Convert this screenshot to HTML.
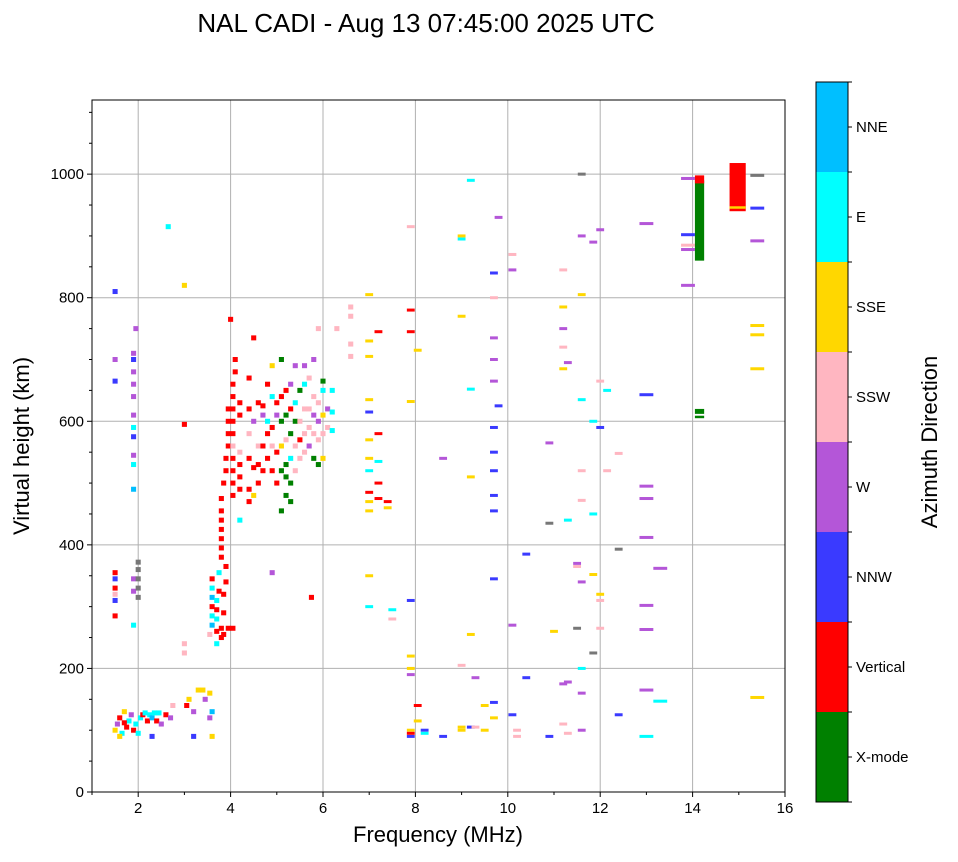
<!DOCTYPE html>
<html><head><meta charset="utf-8"><style>
body{margin:0;background:#fff;font-family:"Liberation Sans",sans-serif}
</style></head><body>
<svg id="chart" width="958" height="857" xmlns="http://www.w3.org/2000/svg" font-family="Liberation Sans, sans-serif">
<text x="426" y="32" font-size="26" text-anchor="middle">NAL CADI - Aug 13 07:45:00 2025 UTC</text>
<g id="grid"></g><g id="marks"></g><g id="axes"></g><g id="cbar"></g>
<text x="438" y="842" font-size="22" text-anchor="middle">Frequency (MHz)</text>
<text transform="translate(29,446) rotate(-90)" font-size="22" text-anchor="middle">Virtual height (km)</text>
<text transform="translate(937,442) rotate(-90)" font-size="22" text-anchor="middle">Azimuth Direction</text>
</svg>
<script>
const dirNames=["X-mode","Vertical","NNW","W","SSW","SSE","E","NNE"];
const dirColors=["#008000","#ff0000","#3a3aff","#b456d8","#ffb6c1","#ffd700","#00ffff","#00bfff","#777777"];
const xTicks=[2,4,6,8,10,12,14,16];
const yTicks=[0,200,400,600,800,1000];
const pts=[
[1.5,100,5],[1.55,110,3],[1.6,120,1],[1.65,95,6],[1.7,130,5],[1.75,105,1],[1.8,115,6],[1.85,125,3],[1.9,100,1],[1.95,110,6],[2.05,120,6],[2.1,125,1],[2.2,115,1],[2.25,125,6],[2.3,120,7],[2.4,115,1],[2.45,128,6],[2.5,110,3],[2.6,125,1],[2.7,120,3],[2.75,140,4],[2.0,95,6],[2.3,90,2],[1.6,90,5],[1.7,112,1],[2.15,128,6],[2.35,128,6],
[3.05,140,1],[3.1,150,5],[3.2,130,3],[3.3,165,5],[3.4,165,5],[3.45,150,3],[3.55,160,5],[3.6,130,7],[3.55,120,3],[3.2,90,2],[3.6,90,5],[3.0,225,4],[3.0,240,4],[3.0,595,1],[3.0,820,5],[2.65,915,6],
[1.5,285,1],[1.5,310,2],[1.5,320,4],[1.5,330,1],[1.5,345,2],[1.5,355,1],[1.5,665,2],[1.5,700,3],[1.5,810,2],
[1.9,270,6],[1.9,325,3],[1.9,345,3],[1.9,490,7],[1.9,530,6],[1.9,545,3],[1.9,575,2],[1.9,590,6],[1.9,610,3],[1.9,640,3],[1.9,660,3],[1.9,680,3],[1.9,700,2],[1.9,710,3],[1.95,750,3],
[2.0,315,8],[2.0,330,8],[2.0,345,8],[2.0,360,8],[2.0,372,8],
[3.55,255,4],[3.6,270,7],[3.6,285,6],[3.6,300,1],[3.6,315,7],[3.6,330,6],[3.6,345,1],[3.7,240,6],[3.7,260,1],[3.7,280,6],[3.7,295,1],[3.7,310,6],[3.75,325,1],[3.75,355,6],[3.8,250,1],[3.8,265,1],[3.85,255,1],[3.85,290,1],[3.85,320,1],[3.9,340,1],[3.9,365,1],[3.95,265,1],[4.05,265,1],[3.8,380,1],[3.8,395,1],[3.8,410,1],[3.8,425,1],[3.8,440,1],[3.8,455,1],[3.8,475,1],[3.85,500,1],[3.9,520,1],[3.9,540,1],[3.95,560,1],[3.95,580,1],[3.95,600,1],[3.95,620,1],[4.0,765,1],
[4.05,480,1],[4.05,500,1],[4.05,520,1],[4.05,540,1],[4.05,560,4],[4.05,580,1],[4.05,600,1],[4.05,620,1],[4.05,640,1],[4.05,660,1],[4.1,680,1],[4.1,700,1],
[4.2,440,6],[4.2,490,1],[4.2,510,1],[4.2,530,1],[4.2,550,4],[4.2,610,1],[4.2,630,1],
[4.4,470,1],[4.4,490,1],[4.4,540,1],[4.4,580,4],[4.4,620,1],[4.4,670,1],
[4.5,480,5],[4.5,525,1],[4.5,600,3],[4.5,735,1],[4.6,500,1],[4.6,530,1],[4.6,560,4],[4.6,630,1],
[4.7,520,1],[4.7,560,1],[4.7,610,3],[4.7,625,1],[4.8,540,1],[4.8,580,1],[4.8,600,6],[4.8,660,1],
[4.9,520,1],[4.9,560,4],[4.9,590,1],[4.9,640,6],[4.9,690,5],[4.9,355,3],[5.0,500,1],[5.0,550,1],[5.0,610,3],[5.0,630,1],
[5.1,455,0],[5.1,520,0],[5.1,560,5],[5.1,600,0],[5.1,640,1],[5.1,700,0],[5.2,480,0],[5.2,510,0],[5.2,530,0],[5.2,570,4],[5.2,610,0],[5.2,650,1],
[5.3,470,0],[5.3,500,0],[5.3,540,6],[5.3,580,0],[5.3,620,1],[5.3,660,3],[5.4,520,4],[5.4,560,4],[5.4,600,0],[5.4,630,6],[5.4,690,3],
[5.5,540,4],[5.5,570,1],[5.5,600,4],[5.5,650,0],[5.6,550,4],[5.6,580,4],[5.6,620,4],[5.6,660,6],[5.6,690,3],
[5.7,560,3],[5.7,590,4],[5.7,620,4],[5.7,670,4],[5.75,315,1],[5.8,540,0],[5.8,580,4],[5.8,610,3],[5.8,640,4],[5.8,700,3],
[5.9,530,0],[5.9,570,4],[5.9,600,3],[5.9,630,4],[5.9,750,4],[6.0,540,5],[6.0,580,4],[6.0,610,5],[6.0,650,6],[6.0,665,0],
[6.1,590,4],[6.1,620,3],[6.2,615,6],[6.2,650,6],[6.2,585,6],[6.3,750,4],
[6.6,785,4],[6.6,770,4],[6.6,725,4],[6.6,705,4],
[7.0,805,5],[7.0,730,5],[7.0,705,5],[7.0,635,5],[7.0,615,2],[7.0,570,5],[7.0,540,5],[7.0,520,6],[7.0,485,1],[7.0,470,5],[7.0,455,5],[7.0,350,5],[7.0,300,6],
[7.2,745,1],[7.2,580,1],[7.2,535,6],[7.2,500,1],[7.2,475,1],[7.4,460,5],[7.4,470,1],[7.5,280,4],[7.5,295,6],
[7.9,915,4],[7.9,780,1],[7.9,745,1],[7.9,632,5],[7.9,310,2],[7.9,220,5],[7.9,200,5],[7.9,190,3],[7.9,100,5],[7.9,90,2],[7.9,95,1],
[8.05,715,5],[8.05,140,1],[8.05,115,5],[8.2,100,2],[8.2,95,6],[8.6,540,3],[8.6,90,2],
[9.0,900,5],[9.0,895,6],[9.0,770,5],[9.0,205,4],[9.0,105,5],[9.0,100,5],[9.2,990,6],[9.2,652,6],[9.2,510,5],[9.2,255,5],[9.2,105,2],[9.3,185,3],[9.3,105,4],[9.5,140,5],[9.5,100,5],
[9.7,840,2],[9.7,800,4],[9.7,735,3],[9.7,700,3],[9.7,665,3],[9.7,590,2],[9.7,550,2],[9.7,520,2],[9.7,480,2],[9.7,455,2],[9.7,345,2],[9.7,145,2],[9.7,120,5],[9.8,930,3],[9.8,625,2],
[10.1,870,4],[10.1,845,3],[10.1,270,3],[10.1,125,2],[10.2,100,4],[10.2,90,4],[10.4,385,2],[10.4,185,2],[10.9,565,3],[10.9,435,8],[10.9,90,2],[11.0,260,5],
[11.2,845,4],[11.2,785,5],[11.2,750,3],[11.2,720,4],[11.2,685,5],[11.2,175,3],[11.2,110,4],[11.3,695,3],[11.3,440,6],[11.3,178,3],[11.3,95,4],[11.5,365,4],[11.5,370,3],[11.5,265,8],
[11.6,1000,8],[11.6,900,3],[11.6,805,5],[11.6,635,6],[11.6,520,4],[11.6,472,4],[11.6,340,3],[11.6,200,6],[11.6,160,3],[11.6,100,3],
[11.85,890,3],[11.85,600,6],[11.85,450,6],[11.85,352,5],[11.85,225,8],[12.0,910,3],[12.0,665,4],[12.0,590,2],[12.0,320,5],[12.0,310,4],[12.0,265,4],[12.15,650,6],[12.15,520,4],
[12.4,548,4],[12.4,393,8],[12.4,125,2],
[13.0,920,3],[13.0,643,2],[13.0,495,3],[13.0,475,3],[13.0,412,3],[13.0,302,3],[13.0,263,3],[13.0,165,3],[13.0,90,6],[13.3,362,3],[13.3,147,6],
[13.9,993,3],[13.9,902,2],[13.9,885,4],[13.9,878,3],[13.9,820,3],
[15.4,998,8],[15.4,945,2],[15.4,892,3],[15.4,755,5],[15.4,740,5],[15.4,685,5],[15.4,153,5]
];
const bars=[[14.05,14.25,860,990,0],[14.05,14.25,985,998,1],[14.05,14.25,612,620,0],[14.05,14.25,605,609,0],[14.8,15.15,940,1018,1],[14.8,15.15,944,948,5]];
const NS="http://www.w3.org/2000/svg";
const X0=92,X1=785,Y0=792,Y1=100;
const xs=f=>X0+(f-1)*(X1-X0)/15;
const ys=h=>Y0-(h)*(Y0-Y1)/1120;
function mk(tag,attrs,parent){const e=document.createElementNS(NS,tag);for(const k in attrs)e.setAttribute(k,attrs[k]);parent.appendChild(e);return e;}
const grid=document.getElementById('grid'),marks=document.getElementById('marks'),axes=document.getElementById('axes'),cb=document.getElementById('cbar');
xTicks.forEach(t=>{if(t<16){const l=mk('line',{x1:xs(t),x2:xs(t),y1:Y1,y2:Y0,stroke:'#b0b0b0','stroke-width':1},grid);

}});
yTicks.forEach(t=>{const l=mk('line',{x1:X0,x2:X1,y1:ys(t),y2:ys(t),stroke:'#b0b0b0','stroke-width':1},grid);

});
pts.forEach(p=>{const w=p[0]<7?0.11:(p[0]>=12.9?0.3:0.17);const hh=p[0]<7?5:3;
const r=mk('rect',{x:xs(p[0]-w/2),y:ys(p[1])-hh/2,width:xs(w)-xs(0),height:hh,fill:dirColors[p[2]]},marks);

});
bars.forEach(b=>{const r=mk('rect',{x:xs(b[0]),y:ys(b[3]),width:xs(b[1])-xs(b[0]),height:ys(b[2])-ys(b[3]),fill:dirColors[b[4]]},marks);

});
mk('rect',{x:X0,y:Y1,width:X1-X0,height:Y0-Y1,fill:'none',stroke:'#000','stroke-width':1},axes);
for(let t=1;t<=16;t++){const major=t%2===0;mk('line',{x1:xs(t),x2:xs(t),y1:Y0,y2:Y0+(major?5:3),stroke:'#000'},axes);}
xTicks.forEach(t=>{const tx=mk('text',{x:xs(t),y:Y0+21,'font-size':15,'text-anchor':'middle'},axes);tx.textContent=t;

});
for(let t=0;t<=1100;t+=50){const major=t%200===0;mk('line',{x1:X0,x2:X0-(major?5:3),y1:ys(t),y2:ys(t),stroke:'#000'},axes);}
yTicks.forEach(t=>{const tx=mk('text',{x:X0-8,y:ys(t)+5,'font-size':15,'text-anchor':'end'},axes);tx.textContent=t;

});
const CX=816,CW=32,CT=82,CB=802,seg=(CB-CT)/8;
for(let i=0;i<8;i++){const y=CB-(i+1)*seg;
const r=mk('rect',{x:CX,y:y,width:CW,height:seg,fill:dirColors[i]},cb);


mk('line',{x1:CX+CW,x2:CX+CW+4,y1:y+seg/2,y2:y+seg/2,stroke:'#000'},cb);
const tx=mk('text',{x:CX+CW+8,y:y+seg/2+5,'font-size':15},cb);tx.textContent=dirNames[i];

}
for(let i=0;i<=8;i++){const y=CB-i*seg;mk('line',{x1:CX+CW,x2:CX+CW+4,y1:y,y2:y,stroke:'#000'},cb);}
mk('rect',{x:CX,y:CT,width:CW,height:CB-CT,fill:'none',stroke:'#000'},cb);
</script>
</body></html>
